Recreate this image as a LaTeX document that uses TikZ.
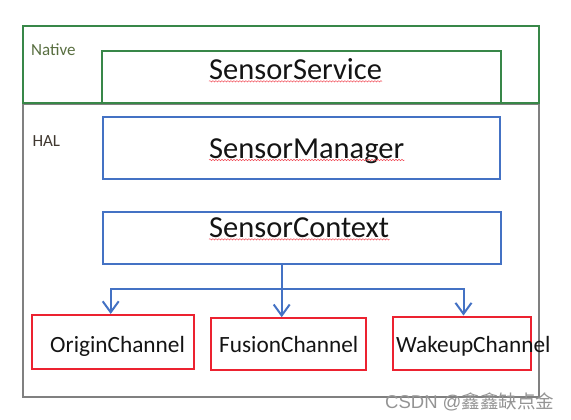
\documentclass[tikz,border=0pt]{standalone}
\usepackage{fontspec}
\setmainfont{Carlito}
\newfontfamily\cjkfont{Noto Sans CJK SC}
\newfontfamily\wmfont{Liberation Sans}
\usetikzlibrary{arrows.meta,decorations.pathmorphing}
\definecolor{gframe}{RGB}{56,135,72}
\definecolor{bframe}{RGB}{68,114,196}
\definecolor{rframe}{RGB}{236,34,48}
\definecolor{hframe}{RGB}{128,128,128}
\definecolor{ntext}{RGB}{88,110,64}
\definecolor{htext}{RGB}{64,56,48}
\definecolor{btext}{RGB}{20,20,20}
\tikzset{
  framebox/.style={line width=2pt, inner sep=0pt},
  gbox/.style={framebox, draw=gframe},
  bbox/.style={framebox, draw=bframe},
  rbox/.style={framebox, draw=rframe},
  bigtext/.style={anchor=base west, inner sep=0pt, text=btext, font=\fontsize{30.5}{33}\selectfont},
  chtext/.style={anchor=base west, inner sep=0pt, text=btext, font=\fontsize{23.3}{26}\selectfont},
  layertext/.style={anchor=base west, inner sep=0pt, font=\fontsize{17}{19}\selectfont},
  conn/.style={draw=bframe, line width=2pt, -{Straight Barb[length=11pt,width=16pt,line width=2pt]}},
  trunk/.style={draw=bframe, line width=2pt},
  squig/.style={draw=rframe!80, line width=0.5pt, decorate, decoration={snake, amplitude=0.7pt, segment length=3pt}},
}
\begin{document}
\begin{tikzpicture}[x=1pt,y=-1pt]
\useasboundingbox (0,0) rectangle (571,420);
% layers
\node[framebox, draw=hframe, minimum width=516pt, minimum height=292pt] (hal) at (280.5,250.5) {};
\node[gbox, minimum width=516pt, minimum height=77pt] (native) at (280.5,64.5) {};
\node[layertext, text=ntext] (nlab) at (31,55.3) {Native};
\node[layertext, text=htext] (hlab) at (32.3,146.7) {HAL};
% boxes
\node[gbox, minimum width=399pt, minimum height=52pt] (ss) at (301.5,76.7) {};
\node[bigtext] (sst) at (209,79.3) {SensorService};
\node[bbox, minimum width=397pt, minimum height=62pt] (sm) at (301.5,147.7) {};
\node[bigtext] (smt) at (209,158) {SensorManager};
\node[bbox, minimum width=398pt, minimum height=52pt] (sc) at (301.5,237.5) {};
\node[bigtext] (sct) at (209,237.3) {SensorContext};
% channels
\node[rbox, minimum width=162.5pt, minimum height=54pt] (oc) at (113,342) {};
\node[chtext] (oct) at (50,352.7) {OriginChannel};
\node[rbox, minimum width=155pt, minimum height=52pt] (fc) at (288.5,344.2) {};
\node[chtext] (fct) at (219,352.5) {FusionChannel};
\node[rbox, minimum width=138pt, minimum height=53.5pt] (wc) at (462,343.3) {};
\node[chtext] (wct) at (396,352.7) {WakeupChannel};
% connectors
\coordinate (jn) at (281.7,288.5);
\coordinate (jl) at (110.7,288.5);
\coordinate (jr) at (463.5,288.5);
\draw[trunk] (sc.south -| jn) -- (jn);
\draw[trunk, line cap=rect] (jl) -- (jr);
\draw[conn] (jl) -- (jl |- oc.north);
\draw[conn] (jn) -- (jn |- fc.north);
\draw[conn] (jr) -- (jr |- wc.north);
% spell-check underlines
\draw[squig] (sst.base west) ++(0,2) -- ([yshift=-2pt]sst.base east);
\draw[squig] (smt.base west) ++(0,2) -- ([yshift=-2pt]smt.base east);
\draw[squig] (sct.base west) ++(0,2) -- ([yshift=-2pt]sct.base east);
% watermark
\node[anchor=base west, inner sep=0pt, text=black!42, font=\wmfont\fontsize{18.5}{21}\selectfont] (wm) at (385,408) {CSDN @{\cjkfont 鑫鑫缺点金}};
\end{tikzpicture}
\end{document}
